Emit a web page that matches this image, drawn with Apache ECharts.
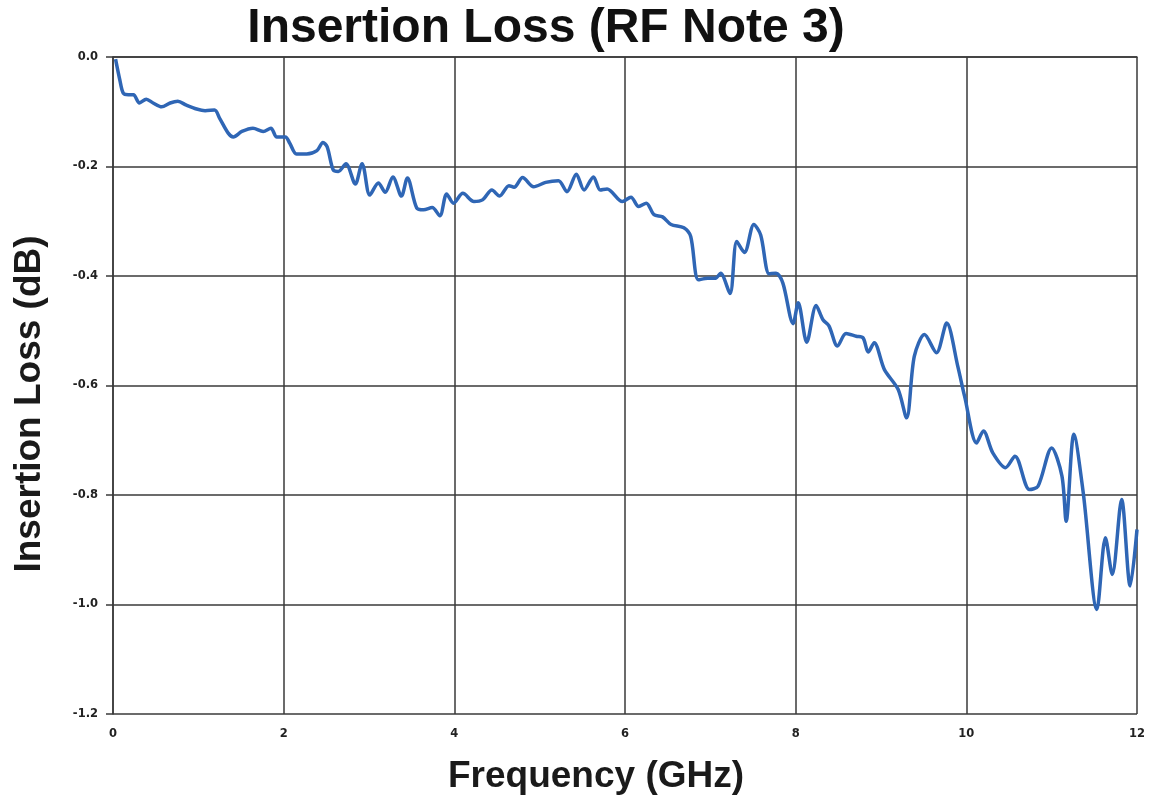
<!DOCTYPE html>
<html>
<head>
<meta charset="utf-8">
<script src="https://cdn.jsdelivr.net/npm/echarts@6/dist/echarts.min.js"></script>
<style>html,body{margin:0;padding:0;background:#fff;}#c{width:1159px;height:801px;}</style>
</head>
<body>
<div id="c"></div>
<script>
const titleText = "Insertion Loss (RF Note 3)";
const xAxisName = "Frequency (GHz)";
const yAxisName = "Insertion Loss (dB)";
const freqGHz = [0.03,0.08,0.12,0.18,0.24,0.31,0.39,0.47,0.57,0.67,0.76,0.86,0.98,1.08,1.19,1.25,1.35,1.41,1.51,1.64,1.76,1.85,1.92,2.02,2.07,2.15,2.27,2.39,2.46,2.51,2.58,2.64,2.73,2.84,2.92,2.94,3.01,3.11,3.19,3.28,3.38,3.45,3.56,3.64,3.74,3.83,3.91,3.99,4.10,4.23,4.33,4.44,4.53,4.64,4.70,4.80,4.93,5.07,5.22,5.32,5.43,5.52,5.63,5.71,5.79,5.97,6.07,6.16,6.25,6.34,6.44,6.54,6.69,6.77,6.86,6.97,7.06,7.12,7.23,7.31,7.40,7.51,7.59,7.69,7.77,7.85,7.97,8.03,8.13,8.24,8.32,8.39,8.49,8.59,8.71,8.79,8.85,8.92,9.04,9.20,9.30,9.39,9.51,9.65,9.77,9.90,9.98,10.12,10.20,10.31,10.46,10.57,10.74,10.84,11.00,11.12,11.17,11.26,11.37,11.53,11.63,11.71,11.82,11.92,12.00];
const lossDb = [-0.004,-0.042,-0.066,-0.069,-0.069,-0.084,-0.077,-0.084,-0.091,-0.084,-0.081,-0.088,-0.095,-0.098,-0.097,-0.112,-0.139,-0.146,-0.136,-0.130,-0.136,-0.130,-0.146,-0.146,-0.157,-0.177,-0.177,-0.171,-0.156,-0.164,-0.206,-0.209,-0.195,-0.232,-0.195,-0.203,-0.252,-0.230,-0.247,-0.219,-0.254,-0.221,-0.276,-0.279,-0.275,-0.290,-0.250,-0.267,-0.249,-0.264,-0.261,-0.243,-0.254,-0.235,-0.238,-0.220,-0.237,-0.229,-0.226,-0.246,-0.214,-0.243,-0.219,-0.243,-0.241,-0.264,-0.256,-0.273,-0.267,-0.288,-0.292,-0.306,-0.312,-0.328,-0.407,-0.404,-0.404,-0.395,-0.432,-0.337,-0.357,-0.306,-0.325,-0.396,-0.395,-0.413,-0.487,-0.449,-0.521,-0.454,-0.480,-0.491,-0.528,-0.505,-0.510,-0.513,-0.539,-0.522,-0.571,-0.607,-0.659,-0.547,-0.507,-0.540,-0.486,-0.565,-0.620,-0.705,-0.683,-0.723,-0.750,-0.729,-0.790,-0.784,-0.714,-0.765,-0.848,-0.689,-0.796,-1.009,-0.878,-0.945,-0.808,-0.966,-0.863];
const xTicks = [0,2,4,6,8,10,12];
const yTicks = [0.0,-0.2,-0.4,-0.6,-0.8,-1.0,-1.2];

const data = freqGHz.map((f,i)=>[f,lossDb[i]]);
const chart = echarts.init(document.getElementById('c'), null, {renderer:'canvas'});
const gridLine = {show:true, lineStyle:{color:'#3a3a3a', width:1.5}};
const tickFont = {fontFamily:'DejaVu Sans', fontWeight:'bold', fontSize:11.5, color:'#222'};
chart.setOption({
  animation:false,
  backgroundColor:'#fff',
  title:{text:titleText, left:541, top:0, textAlign:'center',
    textStyle:{fontFamily:'Liberation Sans, Arial', fontWeight:'bold', fontSize:48, color:'#111'}},
  grid:{left:113, right:22, top:57, bottom:87},
  graphic:[
    {type:'text', x:596, y:777, style:{text:xAxisName, x:0, y:0, align:'center', verticalAlign:'middle',
      font:'bold 37px "Liberation Sans", Arial', fill:'#1a1a1a'}},
    {type:'text', x:30, y:404, rotation:Math.PI/2, style:{text:yAxisName, x:0, y:0, align:'center', verticalAlign:'middle',
      font:'bold 37px "Liberation Sans", Arial', fill:'#1a1a1a'}}
  ],
  xAxis:{type:'value', min:xTicks[0], max:xTicks[xTicks.length-1], interval:2,
    axisLine:{show:true, lineStyle:{color:'#3a3a3a', width:1.5}},
    axisTick:{show:false},
    axisLabel:Object.assign({margin:14, formatter:v=>String(v)}, tickFont),
    splitLine:gridLine},
  yAxis:{type:'value', min:yTicks[yTicks.length-1], max:yTicks[0], interval:0.2,
    axisLine:{show:true, lineStyle:{color:'#3a3a3a', width:1.5}},
    axisTick:{show:true, inside:false, length:7, lineStyle:{color:'#3a3a3a', width:1.5}},
    axisLabel:Object.assign({margin:15, formatter:v=>v.toFixed(1)}, tickFont),
    splitLine:gridLine},
  series:[{type:'line', data:data, showSymbol:false, smooth:0.3,
    lineStyle:{color:'#2f66b5', width:3.5}, clip:true}]
});
</script>
</body>
</html>
